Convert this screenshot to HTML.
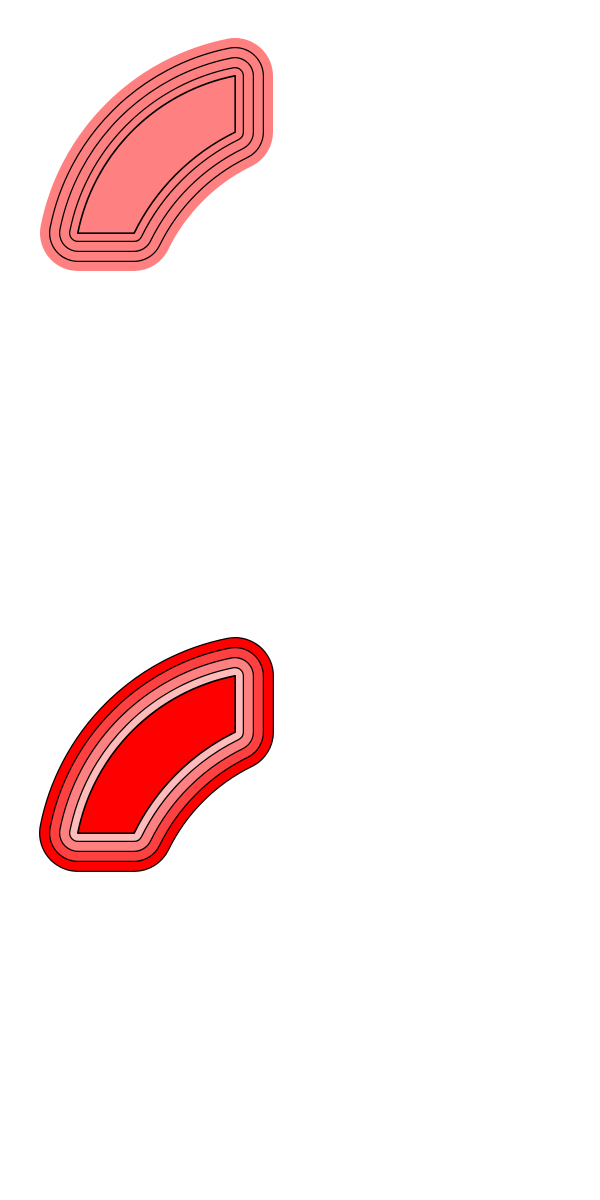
<!DOCTYPE html>
<html>
<head>
<meta charset="utf-8">
<style>
  html,body{margin:0;padding:0;background:#fff;}
  svg{display:block;}
</style>
</head>
<body>
<svg id="chart" width="600" height="1200" viewBox="0 0 600 1200" xmlns="http://www.w3.org/2000/svg"></svg>
<script>
const centerX = 235;
const centerY = 233;
const outerExtent = 157;
const innerExtent = 101;
const outerArcRadius = 200;
const innerArcRadius = 220;
const offsets = [38, 28, 18, 8, 0];
const topColors = ["#ff8080", "#ff8080", "#ff8080", "#ff8080", "#ff8080"];
const topOutlined = [false, true, true, true, true];
const bottomColors = ["#ff0000", "#ff4040", "#ff8080", "#ffbaba", "#ff0000"];
const bottomOutlined = [true, true, true, true, true];
const panelShifts = [0, 600];

const NS = "http://www.w3.org/2000/svg";
const svg = document.getElementById("chart");

function sectorPath(dy) {
  const cy = centerY + dy;
  return "M " + (centerX - outerExtent) + " " + cy +
    " A " + outerArcRadius + " " + outerArcRadius + " 0 0 1 " + centerX + " " + (cy - outerExtent) +
    " L " + centerX + " " + (cy - innerExtent) +
    " A " + innerArcRadius + " " + innerArcRadius + " 0 0 0 " + (centerX - innerExtent) + " " + cy + " Z";
}

function drawPanel(dy, colors, outlined, name) {
  const g = document.createElementNS(NS, "g");
  
  
  svg.appendChild(g);
  const d = sectorPath(dy);
  offsets.forEach((off, i) => {
    if (outlined[i]) {
      const b = document.createElementNS(NS, "path");
      b.setAttribute("d", d);
      b.setAttribute("fill", "#000");
      b.setAttribute("stroke", "#000");
      b.setAttribute("stroke-width", 2 * off + 2);
      b.setAttribute("stroke-linejoin", "round");
      
      
      g.appendChild(b);
    }
    const p = document.createElementNS(NS, "path");
    p.setAttribute("d", d);
    p.setAttribute("fill", colors[i]);
    p.setAttribute("stroke", off === 0 ? "none" : colors[i]);
    p.setAttribute("stroke-width", Math.max(0, 2 * off - (outlined[i] ? 0.5 : 0)));
    p.setAttribute("stroke-linejoin", "round");
    
    
    g.appendChild(p);
  });
  const inner = document.createElementNS(NS, "path");
  inner.setAttribute("d", d);
  inner.setAttribute("fill", "none");
  inner.setAttribute("stroke", "#000");
  inner.setAttribute("stroke-width", 1.2);
  
  
  g.appendChild(inner);
}

drawPanel(panelShifts[0], topColors, topOutlined, "top-sector");
drawPanel(panelShifts[1], bottomColors, bottomOutlined, "bottom-sector");
</script>
</body>
</html>
